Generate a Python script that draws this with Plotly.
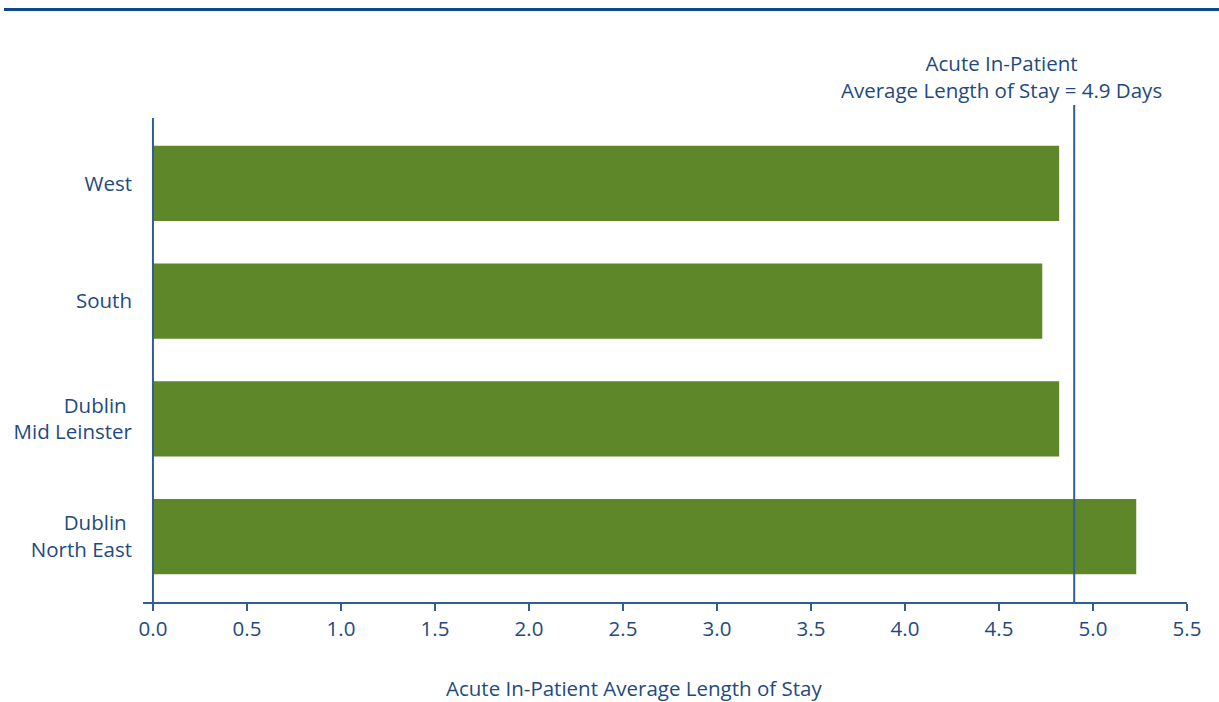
import plotly.graph_objects as go

# Acute in-patient average length of stay by hospital region (days)
regions = ["Dublin <br>North East", "Dublin <br>Mid Leinster", "South", "West"]
avg_stay = [5.23, 4.82, 4.73, 4.82]
national_avg = 4.9
x_ticks = [0.0, 0.5, 1.0, 1.5, 2.0, 2.5, 3.0, 3.5, 4.0, 4.5, 5.0, 5.5]

TEXT = "#1f4a80"
LINE = "#2f5f93"
BAR = "#5e8729"
FONT = "Open Sans"
SIZE = 20.5

fig = go.Figure(
    go.Bar(
        x=avg_stay,
        y=regions,
        orientation="h",
        marker=dict(color=BAR, line=dict(width=0)),
        width=0.64,
        hoverinfo="x+y",
    )
)

px_to_paper_x = lambda px: (px - 143) / 1044
px_to_paper_y = lambda py: (602 - py) / 484

fig.update_layout(
    width=1219,
    height=702,
    margin=dict(l=143, r=32, t=118, b=100),
    paper_bgcolor="white",
    plot_bgcolor="white",
    showlegend=False,
    font=dict(family=FONT, size=SIZE, color=TEXT),
    xaxis=dict(
        range=[-0.053, 5.5],
        tickvals=x_ticks,
        ticktext=[f"{v:.1f}" for v in x_ticks],
        showgrid=False,
        zeroline=False,
        showline=True,
        linecolor=LINE,
        linewidth=2,
        ticks="outside",
        ticklen=7,
        tickwidth=2,
        tickcolor=LINE,
        tickfont=dict(family=FONT, size=SIZE, color=TEXT),
        fixedrange=True,
    ),
    yaxis=dict(
        range=[-0.556, 3.556],
        showgrid=False,
        zeroline=False,
        showline=False,
        ticks="",
        ticklabelstandoff=10,
        tickfont=dict(family=FONT, size=SIZE, color=TEXT),
        fixedrange=True,
    ),
    shapes=[
        # y-axis line at zero
        dict(type="line", xref="x", yref="paper", x0=0, x1=0, y0=0, y1=1,
             line=dict(color=LINE, width=2)),
        # national average reference line
        dict(type="line", xref="x", yref="paper", x0=national_avg, x1=national_avg,
             y0=0, y1=px_to_paper_y(105), line=dict(color=LINE, width=2)),
        # header rule
        dict(type="line", xref="paper", yref="paper",
             x0=px_to_paper_x(4), x1=px_to_paper_x(1219),
             y0=px_to_paper_y(9.5), y1=px_to_paper_y(9.5),
             line=dict(color="#0b4a8a", width=3)),
    ],
    annotations=[
        dict(
            text="Acute In-Patient<br>Average Length of Stay = 4.9 Days",
            xref="paper", yref="paper",
            x=px_to_paper_x(1001), y=px_to_paper_y(106),
            xanchor="center", yanchor="bottom",
            showarrow=False, align="center",
            font=dict(family=FONT, size=SIZE, color=TEXT),
        ),
        dict(
            text="Acute In-Patient Average Length of Stay",
            xref="paper", yref="paper",
            x=px_to_paper_x(634), y=px_to_paper_y(688),
            xanchor="center", yanchor="middle",
            showarrow=False,
            font=dict(family=FONT, size=SIZE, color=TEXT),
        ),
    ],
)

fig.write_html("out.html")
